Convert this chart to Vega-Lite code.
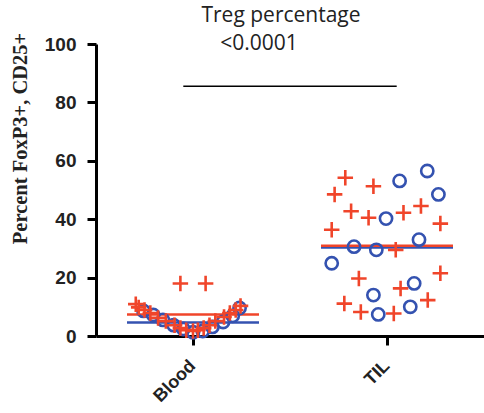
{
  "$schema": "https://vega.github.io/schema/vega-lite/v6.json",
  "width": 388,
  "height": 292,
  "autosize": {"type": "none"},
  "padding": {"left": 96, "top": 44, "right": 0, "bottom": 77},
  "background": "white",
  "config": {"view": {"stroke": null}},
  "title": {
    "text": "Treg percentage",
    "font": "Open Sans",
    "fontSize": 21,
    "fontWeight": "normal",
    "color": "#222",
    "anchor": "middle",
    "frame": "group",
    "dx": -9,
    "offset": 6
  },
  "datasets": {
    "points": [
      {"group": "Blood", "series": "red", "j": -0.59, "v": 10.9},
      {"group": "Blood", "series": "red", "j": -0.56, "v": 9.8},
      {"group": "Blood", "series": "red", "j": -0.5, "v": 8.9},
      {"group": "Blood", "series": "red", "j": -0.44, "v": 7.9},
      {"group": "Blood", "series": "red", "j": -0.36, "v": 6.2},
      {"group": "Blood", "series": "red", "j": -0.28, "v": 5.1},
      {"group": "Blood", "series": "red", "j": -0.19, "v": 3.7},
      {"group": "Blood", "series": "red", "j": -0.13, "v": 2.7},
      {"group": "Blood", "series": "red", "j": -0.07, "v": 2.0},
      {"group": "Blood", "series": "red", "j": 0.0, "v": 1.7},
      {"group": "Blood", "series": "red", "j": 0.05, "v": 2.0},
      {"group": "Blood", "series": "red", "j": 0.11, "v": 2.7},
      {"group": "Blood", "series": "red", "j": 0.17, "v": 3.7},
      {"group": "Blood", "series": "red", "j": 0.23, "v": 5.1},
      {"group": "Blood", "series": "red", "j": 0.32, "v": 6.5},
      {"group": "Blood", "series": "red", "j": 0.38, "v": 7.9},
      {"group": "Blood", "series": "red", "j": 0.44, "v": 8.9},
      {"group": "Blood", "series": "red", "j": 0.49, "v": 10.3},
      {"group": "Blood", "series": "red", "j": -0.13, "v": 18.0},
      {"group": "Blood", "series": "red", "j": 0.13, "v": 18.0},
      {"group": "Blood", "series": "blue", "j": -0.51, "v": 8.6},
      {"group": "Blood", "series": "blue", "j": -0.41, "v": 7.2},
      {"group": "Blood", "series": "blue", "j": -0.31, "v": 5.5},
      {"group": "Blood", "series": "blue", "j": -0.2, "v": 3.7},
      {"group": "Blood", "series": "blue", "j": -0.1, "v": 2.4},
      {"group": "Blood", "series": "blue", "j": 0.0, "v": 1.3},
      {"group": "Blood", "series": "blue", "j": 0.1, "v": 1.7},
      {"group": "Blood", "series": "blue", "j": 0.2, "v": 3.1},
      {"group": "Blood", "series": "blue", "j": 0.31, "v": 4.8},
      {"group": "Blood", "series": "blue", "j": 0.41, "v": 6.9},
      {"group": "Blood", "series": "blue", "j": 0.48, "v": 9.6},
      {"group": "TIL", "series": "blue", "j": 0.415, "v": 56.5},
      {"group": "TIL", "series": "blue", "j": 0.13, "v": 53.1},
      {"group": "TIL", "series": "blue", "j": 0.53, "v": 48.5},
      {"group": "TIL", "series": "blue", "j": -0.01, "v": 40.2},
      {"group": "TIL", "series": "blue", "j": -0.34, "v": 30.6},
      {"group": "TIL", "series": "blue", "j": -0.11, "v": 29.5},
      {"group": "TIL", "series": "blue", "j": 0.33, "v": 33.0},
      {"group": "TIL", "series": "blue", "j": -0.57, "v": 24.9},
      {"group": "TIL", "series": "blue", "j": 0.28, "v": 18.0},
      {"group": "TIL", "series": "blue", "j": -0.14, "v": 14.0},
      {"group": "TIL", "series": "blue", "j": -0.09, "v": 7.4},
      {"group": "TIL", "series": "blue", "j": 0.24, "v": 10.0},
      {"group": "TIL", "series": "red", "j": -0.43, "v": 54.2},
      {"group": "TIL", "series": "red", "j": -0.54, "v": 48.5},
      {"group": "TIL", "series": "red", "j": -0.14, "v": 51.3},
      {"group": "TIL", "series": "red", "j": -0.37, "v": 42.7},
      {"group": "TIL", "series": "red", "j": -0.19, "v": 40.5},
      {"group": "TIL", "series": "red", "j": 0.17, "v": 42.2},
      {"group": "TIL", "series": "red", "j": 0.35, "v": 44.5},
      {"group": "TIL", "series": "red", "j": 0.55, "v": 38.5},
      {"group": "TIL", "series": "red", "j": -0.57, "v": 36.4},
      {"group": "TIL", "series": "red", "j": 0.09, "v": 29.5},
      {"group": "TIL", "series": "red", "j": -0.29, "v": 19.7},
      {"group": "TIL", "series": "red", "j": 0.55, "v": 21.5},
      {"group": "TIL", "series": "red", "j": 0.14, "v": 16.3},
      {"group": "TIL", "series": "red", "j": -0.44, "v": 11.1},
      {"group": "TIL", "series": "red", "j": 0.42, "v": 12.3},
      {"group": "TIL", "series": "red", "j": -0.27, "v": 8.2},
      {"group": "TIL", "series": "red", "j": 0.07, "v": 7.7}
    ],
    "means": [
      {"group": "Blood", "series": "blue", "v": 4.6},
      {"group": "Blood", "series": "red", "v": 7.4},
      {"group": "TIL", "series": "blue", "v": 30.3},
      {"group": "TIL", "series": "red", "v": 30.9}
    ],
    "bracket": [
      {"from": "Blood", "to": "TIL", "v": 85.5, "label": "<0.0001", "lv": 98}
    ]
  },
  "encoding": {
    "x": {
      "field": "group",
      "type": "nominal",
      "scale": {"domain": ["Blood", "TIL"], "paddingInner": 0, "paddingOuter": 0},
      "axis": {
        "title": null,
        "labelAngle": -45,
        "labelAlign": "right",
        "labelBaseline": "middle",
        "labelFont": "Liberation Sans",
        "labelFontWeight": "bold",
        "labelFontSize": 18,
        "labelColor": "#222",
        "labelPadding": 18,
        "domainColor": "black",
        "domainWidth": 3,
        "tickColor": "black",
        "tickWidth": 3,
        "tickSize": 9,
        "grid": false
      }
    },
    "y": {
      "field": "v",
      "type": "quantitative",
      "scale": {"domain": [0, 100], "nice": false, "zero": true},
      "axis": {
        "title": "Percent FoxP3+, CD25+",
        "titleFont": "Liberation Serif",
        "titleFontWeight": "bold",
        "titleFontSize": 20.5,
        "titleColor": "#222",
        "titleX": -76,
        "titleY": 94,
        "titleBaseline": "middle",
        "titleAlign": "center",
        "values": [0, 20, 40, 60, 80, 100],
        "labelFont": "Liberation Sans",
        "labelFontWeight": "bold",
        "labelFontSize": 19,
        "labelColor": "#222",
        "labelPadding": 11,
        "domainColor": "black",
        "domainWidth": 3,
        "tickColor": "black",
        "tickWidth": 3,
        "tickSize": 9,
        "grid": false
      }
    }
  },
  "layer": [
    {
      "data": {"name": "means"},
      "transform": [{"filter": "datum.series === 'blue'"}],
      "mark": {"type": "tick", "orient": "horizontal", "color": "#3452b0", "size": 132, "thickness": 2.5, "opacity": 1}
    },
    {
      "data": {"name": "means"},
      "transform": [{"filter": "datum.series === 'red'"}],
      "mark": {"type": "tick", "orient": "horizontal", "color": "#f0452a", "size": 132, "thickness": 2.5, "opacity": 1}
    },
    {
      "data": {"name": "points"},
      "transform": [{"filter": "datum.series === 'blue'"}],
      "mark": {"type": "point", "shape": "circle", "filled": false, "stroke": "#3452b0", "strokeWidth": 2.6, "size": 150, "opacity": 1},
      "encoding": {
        "xOffset": {"field": "j", "type": "quantitative", "scale": {"domain": [-1, 1]}}
      }
    },
    {
      "data": {"name": "points"},
      "transform": [{"filter": "datum.series === 'red'"}],
      "mark": {"type": "point", "shape": "M-1,0H1M0,-1V1", "filled": false, "stroke": "#f0452a", "strokeWidth": 2.6, "size": 240, "opacity": 1},
      "encoding": {
        "xOffset": {"field": "j", "type": "quantitative", "scale": {"domain": [-1, 1]}}
      }
    },
    {
      "data": {"name": "bracket"},
      "mark": {"type": "rule", "color": "black", "strokeWidth": 1.5},
      "encoding": {
        "x": {"field": "from", "type": "nominal", "bandPosition": 0.45},
        "x2": {"field": "to", "bandPosition": 0.55}
      }
    },
    {
      "data": {"name": "bracket"},
      "mark": {"type": "text", "font": "Open Sans", "fontSize": 21, "color": "#222", "align": "center", "baseline": "alphabetic", "dx": -31},
      "encoding": {
        "x": {"field": "from", "type": "nominal", "bandPosition": 1},
        "y": {"field": "lv", "type": "quantitative"},
        "text": {"field": "label"}
      }
    }
  ]
}
